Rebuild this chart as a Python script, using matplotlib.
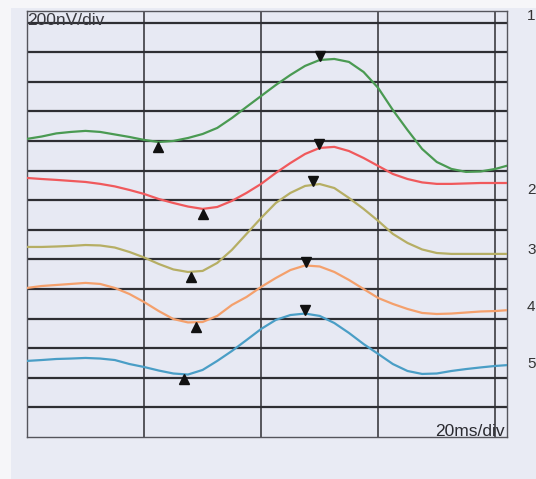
import numpy as np
import matplotlib
matplotlib.use('Agg')
import matplotlib.pyplot as plt
from matplotlib.transforms import offset_copy
from matplotlib.patches import Rectangle

plt.rcParams['font.family'] = ['Liberation Sans', 'DejaVu Sans']

# time axis (ms), one sample every 2.5 ms
time_ms = np.arange(0, 83, 2.5)

# screen position of each trace in nV (200 nV per division, 0 = bottom of grid)
trace1 = [2014, 2030, 2051, 2061, 2068, 2061, 2044, 2027, 2007, 1993, 2000, 2020,
          2047, 2088, 2155, 2230, 2304, 2378, 2446, 2507, 2547, 2554, 2534, 2466,
          2358, 2209, 2074, 1946, 1858, 1811, 1791, 1794, 1811, 1838]
trace2 = [1750, 1743, 1737, 1730, 1723, 1710, 1693, 1669, 1642, 1608, 1581, 1557,
          1541, 1554, 1595, 1649, 1710, 1784, 1851, 1912, 1953, 1960, 1932, 1885,
          1831, 1777, 1743, 1720, 1710, 1710, 1713, 1716, 1716, 1716]
trace3 = [1284, 1284, 1287, 1291, 1297, 1294, 1280, 1250, 1213, 1169, 1132, 1115,
          1122, 1176, 1264, 1372, 1480, 1581, 1649, 1696, 1709, 1682, 1615, 1541,
          1460, 1372, 1311, 1267, 1243, 1237, 1237, 1237, 1237, 1237]
trace4 = [1007, 1020, 1027, 1034, 1041, 1034, 1007, 966, 912, 851, 797, 774,
          777, 818, 892, 946, 1014, 1074, 1128, 1159, 1152, 1115, 1061, 1000,
          939, 899, 865, 838, 831, 834, 841, 848, 851, 858]
trace5 = [514, 520, 527, 530, 534, 530, 520, 493, 473, 449, 429, 422,
          453, 514, 581, 655, 730, 791, 824, 834, 818, 770, 703, 628,
          561, 493, 446, 426, 429, 446, 459, 470, 480, 487]

traces = [trace1, trace2, trace3, trace4, trace5]
colors = ['#4a9a52', '#f0595c', '#b6ae64', '#f4a06c', '#4a9ec6']
channel_labels = ['1', '2', '3', '4', '5']

# latencies of the marked trough (N) and peak (P) in ms
trough_ms = [22.4, 30.1, 28.0, 28.9, 26.8]
peak_ms = [50.1, 49.9, 48.9, 47.7, 47.5]

fig = plt.figure(figsize=(5.36, 4.79), dpi=100)
fig.patch.set_facecolor('#f6f6f9')
# scanned paper
fig.patches.append(Rectangle((11 / 536, 0), 1, 1 - 8 / 479, transform=fig.transFigure,
                             facecolor='#e9ebf4', edgecolor='none', zorder=-1))

ax = fig.add_axes([27 / 536, 42 / 479, 480 / 536, 426 / 479])
ax.set_zorder(1)
ax.set_facecolor('#e7e9f3')
ax.set_xlim(0, 82)
ax.set_ylim(0, 2878)

for y in range(200, 2900, 200):
    ax.axhline(y, color='#2e2e33', lw=1.6, zorder=1)
for x in [20, 40, 60, 80]:
    ax.axvline(x, color='#2e2e33', lw=1.1, zorder=1)
for s in ax.spines.values():
    s.set_color('#55555c')
    s.set_linewidth(1.0)
ax.set_xticks([])
ax.set_yticks([])

down = offset_copy(ax.transData, fig=fig, y=-5, units='dots')
up = offset_copy(ax.transData, fig=fig, y=4, units='dots')
for tr, c, tn, tp in zip(traces, colors, trough_ms, peak_ms):
    ax.plot(time_ms, tr, color=c, lw=1.6, zorder=3, solid_joinstyle='round')
    ax.plot(tn, np.interp(tn, time_ms, tr), marker='^', ms=6.5, color='#111111',
            transform=down, zorder=4, clip_on=False)
    ax.plot(tp, np.interp(tp, time_ms, tr), marker='v', ms=6.5, color='#111111',
            transform=up, zorder=4, clip_on=False)

ax.text(0, 2783, '200nV/div', fontsize=12.5, color='#3a3a40', ha='left', va='baseline',
        zorder=2)
ax.text(81.7, 8, '20ms/div', fontsize=12.5, color='#2a2a30', ha='right', va='baseline',
        zorder=2)

# channel numbers at the right edge of the scan
label_y = [463, 289, 229, 172, 115]
for lab, yy in zip(channel_labels, label_y):
    fig.text(527 / 536, yy / 479, lab, fontsize=11, color='#333333', ha='left',
             va='center')

fig.savefig('out.png', dpi=100)
